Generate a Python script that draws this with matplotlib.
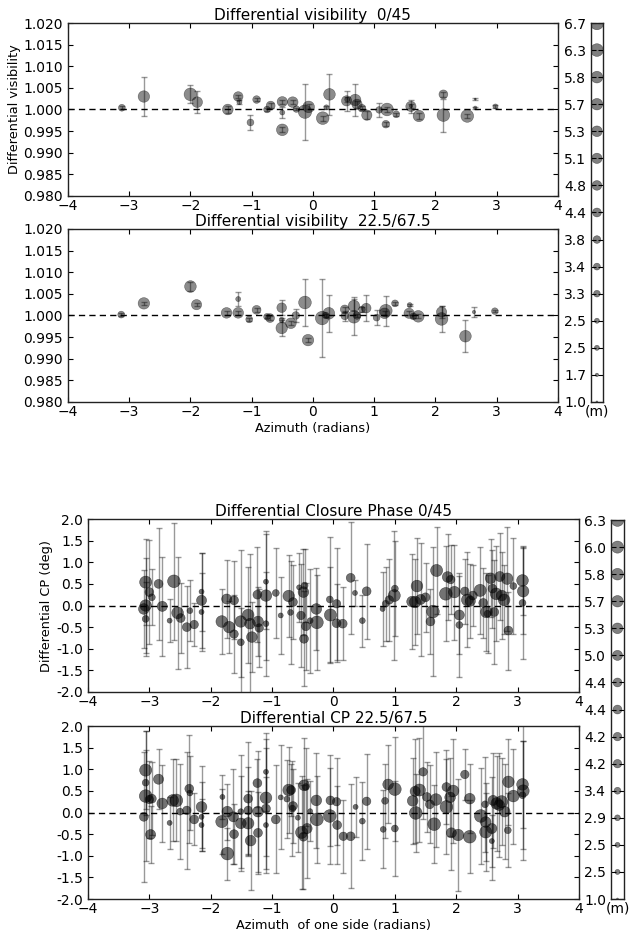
import numpy as np
import matplotlib
matplotlib.use('Agg')
import matplotlib.pyplot as plt

plt.rcParams['font.family'] = 'DejaVu Sans'
plt.rcParams['xtick.direction'] = 'in'
plt.rcParams['ytick.direction'] = 'in'
plt.rcParams['xtick.top'] = True
plt.rcParams['ytick.right'] = True
plt.rcParams['xtick.major.size'] = 3.5
plt.rcParams['ytick.major.size'] = 3.5
plt.rcParams['xtick.major.pad'] = 2.5
plt.rcParams['xtick.labelsize'] = 10
plt.rcParams['ytick.labelsize'] = 10
plt.rcParams['axes.linewidth'] = 1.0
plt.rcParams['axes.edgecolor'] = '#222222'

# ---- differential visibility 0/45 ----
vis1_az = [-3.12, -2.76, -2.00, -1.89, -1.39, -1.22, -1.20, -1.02, -0.92, -0.75,
           -0.69, -0.50, -0.50, -0.50, -0.33, -0.27, -0.13, -0.07, 0.16, 0.22,
           0.27, 0.55, 0.56, 0.69, 0.72, 0.80, 0.88, 1.08, 1.21, 1.19,
           1.36, 1.60, 1.60, 1.73, 2.13, 2.13, 2.52, 2.65, 2.65, 2.98]
vis1_val = [1.0004, 1.0030, 1.0035, 1.0017, 1.0000, 1.0030, 1.0017, 0.9970, 1.0023, 1.0000,
            1.0009, 0.9953, 1.0018, 0.9993, 1.0017, 1.0001, 0.9995, 1.0006, 0.9980, 1.0005,
            1.0035, 1.0020, 1.0023, 1.0022, 1.0012, 1.0003, 0.9987, 0.9999, 1.0000, 0.9966,
            0.9989, 1.0007, 1.0008, 0.9985, 0.9987, 1.0035, 0.9985, 1.0024, 1.0004, 1.0007]
vis1_err = [0.0003, 0.0045, 0.0021, 0.0025, 0.0009, 0.0004, 0.0004, 0.0017, 0.0004, 0.0003,
            0.0005, 0.0006, 0.0005, 0.0013, 0.0005, 0.0003, 0.0065, 0.0006, 0.0006, 0.0003,
            0.0047, 0.0023, 0.0005, 0.0038, 0.0008, 0.0005, 0.0009, 0.0017, 0.0006, 0.0005,
            0.0004, 0.0015, 0.0004, 0.0006, 0.0038, 0.0005, 0.0005, 0.0002, 0.0002, 0.0003]
vis1_base = [3.4, 5.7, 6.3, 5.3, 5.3, 4.8, 2.5, 3.4, 3.8, 3.3,
             4.4, 5.8, 5.1, 2.5, 5.3, 3.3, 6.7, 5.8, 6.3, 2.5,
             5.8, 5.1, 2.5, 5.7, 5.1, 3.8, 5.1, 3.3, 6.3, 3.8,
             3.4, 5.1, 1.7, 5.7, 6.3, 4.4, 6.3, 1.0, 1.7, 2.5]

# ---- differential visibility 22.5/67.5 ----
vis2_az = [-3.13, -2.76, -2.00, -1.90, -1.41, -1.22, -1.22, -1.04, -0.92, -0.75,
           -0.70, -0.51, -0.51, -0.51, -0.36, -0.28, -0.13, -0.08, 0.15, 0.21,
           0.26, 0.52, 0.52, 0.67, 0.67, 0.72, 0.80, 0.87, 1.04, 1.19,
           1.17, 1.34, 1.57, 1.58, 1.64, 1.72, 2.10, 2.10, 2.49, 2.63, 2.97]
vis2_val = [1.0002, 1.0028, 1.0067, 1.0025, 1.0006, 1.0006, 1.0038, 0.9991, 1.0013, 0.9997,
            0.9994, 1.0018, 0.9971, 0.9990, 0.9982, 1.0000, 1.0030, 0.9943, 0.9994, 1.0000,
            1.0005, 1.0014, 0.9999, 1.0022, 0.9997, 1.0000, 1.0014, 1.0017, 0.9995, 1.0011,
            1.0005, 1.0028, 1.0005, 1.0024, 0.9998, 0.9998, 1.0008, 0.9992, 0.9952, 1.0008, 1.0010]
vis2_err = [0.0003, 0.0004, 0.0011, 0.0004, 0.0005, 0.0005, 0.0016, 0.0004, 0.0004, 0.0004,
            0.0004, 0.0017, 0.0019, 0.0005, 0.0005, 0.0014, 0.0055, 0.0005, 0.0090, 0.0004,
            0.0043, 0.0005, 0.0012, 0.0020, 0.0042, 0.0004, 0.0005, 0.0030, 0.0017, 0.0035,
            0.0005, 0.0003, 0.0005, 0.0003, 0.0004, 0.0005, 0.0015, 0.0031, 0.0037, 0.0012, 0.0003]
vis2_base = [3.4, 5.7, 5.8, 5.1, 5.3, 5.3, 2.5, 3.4, 4.4, 3.3,
             4.4, 4.8, 5.7, 2.5, 5.3, 3.8, 6.3, 5.7, 6.7, 3.3,
             5.8, 4.4, 3.8, 5.7, 6.3, 3.8, 3.3, 4.8, 3.4, 6.3,
             5.3, 3.4, 5.1, 2.5, 3.3, 5.8, 5.1, 6.3, 5.8, 1.7, 3.3]

# ---- differential closure phase 0/45 ----
cp1_az = [-3.06, -3.06, -3.09, -3.06, -3.00, -2.96, -2.85, -2.79, -2.67, -2.60,
          -2.54, -2.49, -2.39, -2.34, -2.27, -2.15, -2.15, -2.15, -1.82, -1.74,
          -1.70, -1.62, -1.62, -1.51, -1.51, -1.39, -1.36, -1.33, -1.24, -1.23,
          -1.21, -1.10, -1.10, -1.10, -0.94, -0.86, -0.73, -0.70, -0.66, -0.56,
          -0.53, -0.49, -0.47, -0.48, -0.45, -0.38, -0.28, -0.27, -0.06, -0.05,
          0.05, 0.05, 0.15, 0.28, 0.35, 0.47, 0.54, 0.80, 0.85, 0.91,
          0.99, 1.00, 1.28, 1.33, 1.36, 1.42, 1.50, 1.58, 1.62, 1.68,
          1.86, 1.83, 1.91, 1.97, 2.05, 2.05, 2.14, 2.18, 2.23, 2.27,
          2.39, 2.44, 2.49, 2.51, 2.56, 2.59, 2.62, 2.65, 2.71, 2.74,
          2.78, 2.83, 2.85, 2.93, 3.08, 3.09, 3.08]
cp1_val = [0.54, 0.00, -0.08, -0.31, 0.31, 0.19, 0.50, -0.02, -0.35, 0.56,
           -0.17, -0.29, -0.50, -0.12, -0.44, 0.12, 0.32, -0.15, -0.37, 0.15,
           -0.50, 0.12, -0.66, -0.85, -0.37, -0.22, -0.42, -0.73, 0.25, -0.37,
           -0.52, 0.23, 0.55, -0.42, 0.29, -0.23, 0.22, -0.16, 0.08, 0.42,
           -0.23, 0.31, 0.46, -0.77, -0.48, -0.35, -0.08, -0.39, 0.14, -0.22,
           0.04, -0.41, -0.42, 0.64, 0.29, -0.35, 0.33, -0.08, 0.04, 0.13,
           0.23, 0.39, 0.09, 0.08, 0.45, 0.14, 0.19, -0.37, -0.14, 0.81,
           0.66, 0.27, 0.60, 0.31, -0.22, -0.45, 0.33, 0.13, 0.10, 0.23,
           0.35, 0.06, -0.15, -0.19, 0.63, 0.39, -0.15, 0.27, 0.67, 0.23,
           0.13, 0.62, -0.58, 0.45, 0.58, 0.33, 0.06]
cp1_err = [1.0, 1.1, 0.9, 0.85, 1.2, 0.65, 1.3, 1.15, 0.5, 1.35,
           1.3, 0.8, 0.95, 0.7, 0.5, 1.1, 0.9, 0.9, 0.75, 0.9,
           0.6, 0.9, 0.9, 0.8, 1.65, 1.1, 1.6, 0.8, 1.1, 0.8,
           0.9, 1.5, 1.1, 1.2, 1.05, 0.9, 0.95, 1.2, 0.85, 0.8,
           1.2, 1.0, 0.85, 1.1, 1.0, 1.2, 0.95, 1.1, 1.45, 1.1,
           1.3, 0.9, 0.85, 1.3, 0.3, 0.6, 1.1, 0.85, 0.85, 0.95,
           1.5, 1.1, 1.1, 1.0, 1.1, 1.3, 0.8, 0.75, 1.5, 1.0,
           1.0, 1.1, 0.8, 1.1, 0.9, 1.2, 0.75, 1.1, 0.85, 0.7,
           1.0, 0.8, 0.9, 0.9, 0.9, 0.9, 1.2, 1.1, 1.0, 1.0,
           0.8, 1.2, 0.9, 1.1, 0.8, 1.0, 1.3]
cp1_base = [6.0, 5.7, 5.3, 3.4, 4.4, 3.4, 4.4, 5.0, 2.5, 6.3,
            5.8, 4.4, 4.4, 2.9, 4.2, 5.0, 2.5, 2.5, 5.8, 5.0,
            5.7, 4.4, 4.2, 3.4, 5.7, 5.8, 5.3, 5.3, 4.4, 5.3,
            4.2, 5.7, 2.5, 2.9, 3.4, 2.5, 5.7, 2.9, 4.4, 2.5,
            4.2, 5.3, 3.4, 4.4, 4.4, 2.9, 5.3, 6.3, 3.4, 6.0,
            4.2, 4.4, 4.4, 4.4, 2.5, 2.9, 4.4, 2.5, 3.4, 4.2,
            6.0, 3.4, 5.3, 5.7, 5.8, 5.0, 4.4, 4.4, 6.3, 6.0,
            5.3, 6.3, 4.2, 5.7, 5.0, 3.4, 4.2, 5.8, 5.0, 4.4,
            6.0, 4.4, 5.7, 3.4, 5.3, 4.4, 4.4, 5.8, 5.0, 5.3,
            5.8, 5.7, 4.4, 3.4, 5.8, 5.7, 3.4]

# ---- differential closure phase 22.5/67.5 ----
cp2_az = [-3.06, -3.06, -3.06, -3.09, -3.00, -2.96, -2.98, -2.85, -2.79, -2.67,
          -2.62, -2.56, -2.50, -2.39, -2.35, -2.34, -2.27, -2.15, -2.15, -2.15,
          -1.82, -1.81, -1.73, -1.73, -1.63, -1.62, -1.51, -1.51, -1.39, -1.39,
          -1.39, -1.35, -1.24, -1.23, -1.23, -1.10, -1.10, -1.10, -1.10, -0.94,
          -0.86, -0.76, -0.73, -0.69, -0.67, -0.66, -0.58, -0.52, -0.49, -0.48,
          -0.45, -0.43, -0.38, -0.28, -0.27, -0.05, -0.06, 0.05, 0.06, 0.16,
          0.28, 0.36, 0.47, 0.54, 0.81, 0.84, 0.89, 1.00, 1.00, 1.29,
          1.33, 1.34, 1.40, 1.46, 1.52, 1.57, 1.64, 1.67, 1.84, 1.84,
          1.90, 1.95, 1.92, 2.03, 2.14, 2.22, 2.22, 2.40, 2.47, 2.48,
          2.48, 2.58, 2.58, 2.60, 2.66, 2.70, 2.74, 2.79, 2.85, 2.84,
          2.93, 3.08, 3.09, 3.08]
cp2_val = [0.98, 0.69, 0.38, -0.10, 0.30, 0.32, -0.51, 0.77, 0.21, -0.24,
           0.28, 0.28, 0.02, 0.05, 0.55, 0.45, -0.16, 0.13, -0.10, -0.29,
           -0.21, 0.36, 0.02, -0.95, -0.10, -0.50, -0.25, 0.02, 0.32, 0.05,
           -0.25, -0.65, 0.68, 0.02, -0.47, 0.34, 0.94, 0.09, -0.29, -0.16,
           0.35, 0.31, 0.52, 0.52, 0.09, 0.15, -0.12, -0.46, -0.56, 0.63,
           0.59, -0.37, 0.03, 0.28, -0.16, 0.28, -0.08, 0.25, -0.29, -0.55,
           -0.55, 0.13, -0.20, 0.26, -0.39, 0.27, 0.65, 0.54, -0.37, 0.27,
           0.49, -0.01, 0.52, 0.94, 0.36, 0.19, -0.27, 0.30, 0.59, 0.13,
           0.35, 0.50, -0.47, -0.52, 0.88, 0.32, -0.56, -0.08, 0.19, -0.22,
           -0.45, -0.37, -0.66, 0.28, 0.21, 0.17, 0.25, 0.02, 0.71, -0.41,
           0.38, 0.65, 0.50, 0.40]
cp2_err = [0.9, 0.75, 1.5, 1.5, 0.9, 0.85, 0.65, 0.7, 0.9, 0.6,
           0.95, 0.95, 1.1, 1.35, 1.25, 0.85, 0.6, 0.95, 0.8, 0.6,
           0.75, 0.5, 0.65, 0.6, 1.1, 0.7, 1.1, 1.3, 1.3, 1.0,
           0.75, 1.15, 0.55, 1.4, 0.95, 1.35, 0.9, 1.4, 1.1, 1.25,
           1.2, 0.9, 1.0, 0.6, 1.1, 0.85, 0.8, 1.3, 1.2, 1.1,
           0.9, 1.15, 0.7, 1.1, 1.0, 1.05, 1.1, 1.0, 0.9, 0.85,
           1.2, 0.7, 0.9, 1.1, 0.9, 0.85, 0.9, 1.2, 1.1, 1.0,
           1.2, 0.9, 1.2, 1.1, 0.8, 0.9, 0.9, 1.1, 0.85, 1.1,
           0.9, 1.2, 0.85, 1.3, 0.6, 0.8, 0.85, 1.1, 1.1, 0.9,
           0.9, 1.2, 0.6, 1.1, 1.1, 1.2, 1.0, 1.1, 1.0, 0.85,
           1.1, 1.0, 1.6, 1.25]
cp2_base = [6.0, 3.4, 6.3, 4.4, 4.2, 4.4, 5.0, 5.0, 5.3, 2.5,
            5.8, 6.3, 3.4, 4.2, 4.4, 2.9, 4.4, 5.3, 2.5, 2.5,
            6.0, 2.5, 5.3, 6.3, 5.0, 4.4, 5.3, 2.9, 4.4, 4.2,
            5.7, 5.3, 4.4, 5.3, 4.4, 5.8, 2.5, 4.4, 2.5, 4.4,
            2.5, 2.9, 5.8, 4.4, 3.4, 4.4, 2.5, 6.0, 4.4, 5.3,
            3.4, 5.0, 2.5, 5.3, 6.3, 4.4, 6.3, 4.2, 4.4, 4.2,
            4.4, 2.5, 2.9, 4.2, 2.9, 3.4, 5.3, 6.3, 3.4, 5.3,
            5.0, 6.3, 6.0, 4.2, 4.4, 4.4, 6.3, 5.8, 4.4, 6.3,
            5.3, 5.7, 5.0, 5.7, 4.2, 5.3, 6.3, 6.3, 3.4, 5.3,
            6.0, 5.0, 2.5, 5.0, 5.8, 5.3, 6.0, 5.3, 5.7, 3.4,
            5.8, 5.8, 6.0, 3.4]

# baseline lengths shown in the side keys (m)
vis_key = [6.7, 6.3, 5.8, 5.7, 5.3, 5.1, 4.8, 4.4, 3.8, 3.4, 3.3, 2.5, 2.5, 1.7, 1.0]
cp_key = [6.3, 6.0, 5.8, 5.7, 5.3, 5.0, 4.4, 4.4, 4.2, 4.2, 3.4, 2.9, 2.5, 2.5, 1.0]


def msize(b):
    return (1.45 * np.asarray(b)) ** 2


def panel(ax, az, val, err, base, ref, alpha):
    ax.errorbar(az, val, yerr=err, fmt='none', ecolor='k', alpha=0.4,
                capsize=2.5, elinewidth=1.0, capthick=1.0)
    ax.scatter(az, val, s=msize(base), c='k', alpha=alpha,
               edgecolors='k', linewidths=0.4, zorder=3)
    ax.axhline(ref, color='k', ls=(0, (4.5, 3.0)), lw=1.0, zorder=4)
    ax.set_xlim(-4, 4)


def key(ax, sizes):
    n = len(sizes)
    ypos = np.arange(n)[::-1]
    ax.scatter(np.full(n, 0.5), ypos, s=msize(sizes), c='k', alpha=0.5,
               edgecolors='k', linewidths=0.4)
    ax.set_xlim(0, 1)
    ax.set_ylim(0, n - 1)
    ax.set_xticks([])
    ax.set_yticks(ypos)
    ax.set_yticklabels(['%.1f' % v for v in sizes])
    ax.tick_params(axis='y', right=True, left=True, labelleft=True)
    ax.set_xlabel('(m)', fontsize=10, labelpad=2)


fig = plt.figure(figsize=(6.29, 9.35), dpi=100)

ax1 = fig.add_axes([0.108, 0.7904, 0.779, 0.1850])
panel(ax1, vis1_az, vis1_val, vis1_err, vis1_base, 1.0, 0.45)
ax1.set_ylim(0.98, 1.02)
ax1.set_yticks(np.arange(0.98, 1.0201, 0.005))
ax1.yaxis.set_major_formatter(plt.FormatStrFormatter('%.3f'))
ax1.set_title('Differential visibility  0/45', fontsize=11, pad=2)
ax1.set_ylabel('Differential visibility', fontsize=9.3, labelpad=2)

ax2 = fig.add_axes([0.108, 0.5701, 0.779, 0.1850])
panel(ax2, vis2_az, vis2_val, vis2_err, vis2_base, 1.0, 0.45)
ax2.set_ylim(0.98, 1.02)
ax2.set_yticks(np.arange(0.98, 1.0201, 0.005))
ax2.yaxis.set_major_formatter(plt.FormatStrFormatter('%.3f'))
ax2.set_title('Differential visibility  22.5/67.5', fontsize=11, pad=1)
ax2.set_xlabel('Azimuth (radians)', fontsize=9.3, labelpad=2)

k1 = fig.add_axes([0.9395, 0.5701, 0.019, 0.4053])
key(k1, vis_key)

ax3 = fig.add_axes([0.1399, 0.2599, 0.7806, 0.1850])
panel(ax3, cp1_az, cp1_val, cp1_err, cp1_base, 0.0, 0.55)
ax3.set_ylim(-2, 2)
ax3.set_yticks(np.arange(-2, 2.01, 0.5))
ax3.yaxis.set_major_formatter(plt.FormatStrFormatter('%.1f'))
ax3.set_title('Differential Closure Phase 0/45', fontsize=11, pad=2)
ax3.set_ylabel('Differential CP (deg)', fontsize=9.3, labelpad=2)

ax4 = fig.add_axes([0.1399, 0.0385, 0.7806, 0.1850])
panel(ax4, cp2_az, cp2_val, cp2_err, cp2_base, 0.0, 0.55)
ax4.set_ylim(-2, 2)
ax4.set_yticks(np.arange(-2, 2.01, 0.5))
ax4.yaxis.set_major_formatter(plt.FormatStrFormatter('%.1f'))
ax4.set_title('Differential CP 22.5/67.5', fontsize=11, pad=1)
ax4.set_xlabel('Azimuth  of one side (radians)', fontsize=9.3, labelpad=2)

k2 = fig.add_axes([0.9714, 0.0385, 0.0206, 0.4053])
key(k2, cp_key)

fig.savefig('out.png', dpi=100)
